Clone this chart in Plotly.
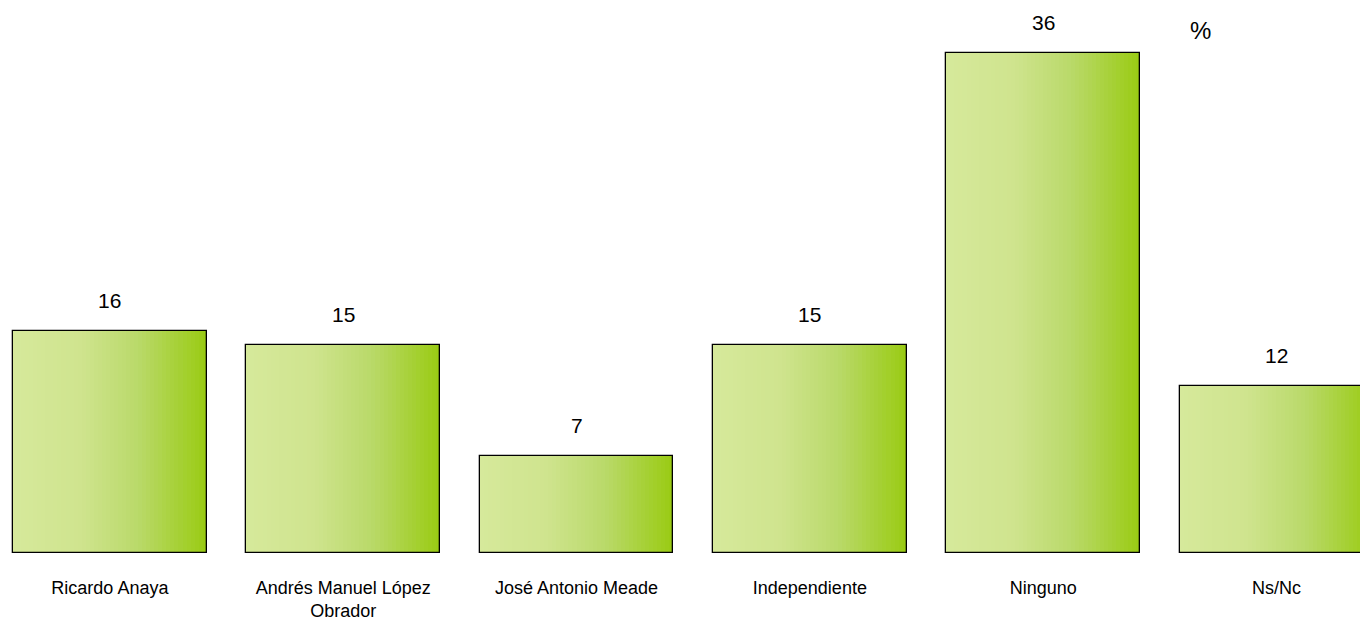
import plotly.graph_objects as go

categories = ["Ricardo Anaya", "Andrés Manuel López<br>Obrador", "José Antonio Meade",
              "Independiente", "Ninguno", "Ns/Nc"]
values = [16, 15, 7, 15, 36, 12]
value_labels = ["16", "15", "7", "15", "36", "12"]
unit_label = "%"

# gradient stops (position, rgb)
stops = [(0.0, (214, 233, 155)), (0.35, (207, 228, 142)), (0.65, (185, 217, 105)), (1.0, (153, 203, 18))]

def grad(t):
    for (p0, c0), (p1, c1) in zip(stops[:-1], stops[1:]):
        if t <= p1:
            f = (t - p0) / (p1 - p0) if p1 > p0 else 0
            return "rgb(%d,%d,%d)" % tuple(round(a + (b - a) * f) for a, b in zip(c0, c1))
    return "rgb(%d,%d,%d)" % stops[-1][1]

BAR_W = 0.83
N = 48
font_family = "Liberation Sans Narrow, Arial Narrow, Liberation Sans, Arial, sans-serif"

fig = go.Figure()
sw = BAR_W / N
for i in range(N):
    t = (i + 0.5) / N
    fig.add_trace(go.Bar(
        x=categories, y=values,
        offset=-BAR_W / 2 + i * sw, width=sw * (1.15 if i < N - 1 else 1.0),
        marker=dict(color=grad(t), line=dict(width=0)),
        hoverinfo="skip", showlegend=False,
    ))
fig.add_trace(go.Bar(
    x=categories, y=values, offset=-BAR_W / 2, width=BAR_W,
    marker=dict(color="rgba(0,0,0,0)", line=dict(color="black", width=1.3)),
    showlegend=False, hoverinfo="skip",
))

for c, v, lab in zip(categories, values, value_labels):
    fig.add_annotation(x=c, y=v, text=lab, showarrow=False, yanchor="bottom", yshift=17,
                       font=dict(size=21, color="black", family=font_family))

fig.add_annotation(x=1200 / 1360, y=1 - 30 / 553, xref="paper", yref="paper", text=unit_label,
                   showarrow=False, xanchor="center", yanchor="middle",
                   font=dict(size=24, color="black", family=font_family))

fig.update_layout(
    width=1360, height=627,
    margin=dict(l=0, r=0, t=0, b=74, pad=0),
    barmode="overlay", bargap=0,
    plot_bgcolor="white", paper_bgcolor="white",
    xaxis=dict(range=[-0.471, 5.358], showgrid=False, zeroline=False, showline=False,
               ticks="", tickfont=dict(size=18, color="black", family=font_family),
               automargin=False, ticklabelstandoff=22),
    yaxis=dict(range=[0, 553 / 13.89], visible=False, automargin=False),
)

fig.write_html("out.html", config={"displayModeBar": False},
               post_script="document.body.style.margin='0px';document.body.style.padding='0px';")
